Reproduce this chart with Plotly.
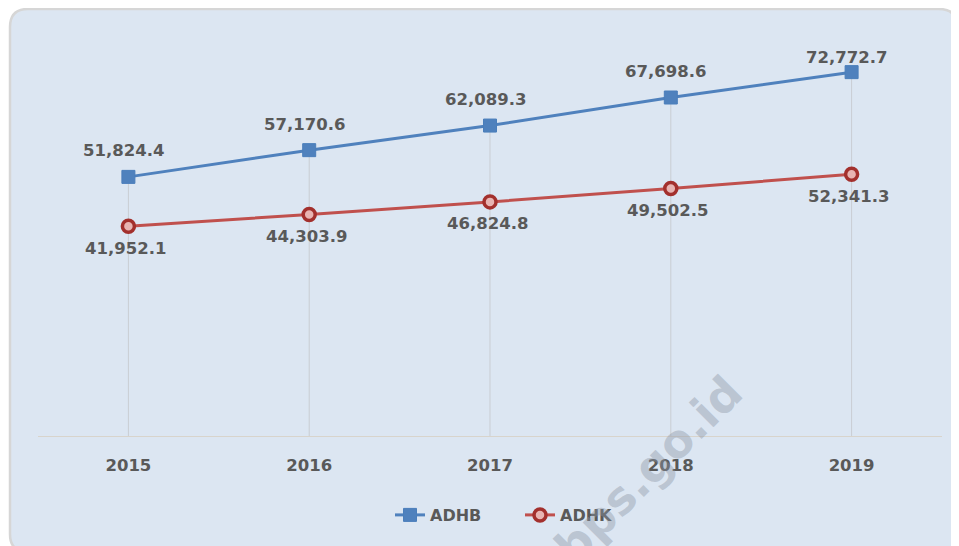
import plotly.graph_objects as go

years = ["2015", "2016", "2017", "2018", "2019"]
adhb = [51824.4, 57170.6, 62089.3, 67698.6, 72772.7]
adhk = [41952.1, 44303.9, 46824.8, 49502.5, 52341.3]

# page body has an 8px margin; figure is laid out in screen pixels minus that offset
OFF = 8
W, H = 959 - OFF, 546 - OFF
ML, MR, MT, MB = 38 - OFF, 17, 36 - OFF, 110
PW, PH = W - ML - MR, H - MT - MB

def px(x):
    return (x - OFF - ML) / PW

def py(y):
    return (H - MB - (y - OFF)) / PH

FONT = "DejaVu Sans"
TXT = "#595959"

fig = go.Figure()

# drop lines
dx, dy = [], []
for i, yr in enumerate(years):
    dx += [yr, yr, None]
    dy += [0, max(adhb[i], adhk[i]), None]
fig.add_trace(go.Scatter(x=dx, y=dy, mode="lines", line=dict(color="#c9cdd3", width=1),
                         hoverinfo="skip", showlegend=False))

fig.add_trace(go.Scatter(x=years, y=adhb, name="ADHB", mode="lines+markers",
                         line=dict(color="#4F81BD", width=3),
                         marker=dict(symbol="square", size=13, color="#4F81BD",
                                     line=dict(color="#4A7EBB", width=1))))
fig.add_trace(go.Scatter(x=years, y=adhk, name="ADHK", mode="lines+markers",
                         line=dict(color="#C0504D", width=3),
                         marker=dict(symbol="circle", size=12, color="#E8B4B2",
                                     line=dict(color="#A3302D", width=3.5))))

for i, yr in enumerate(years):
    fig.add_annotation(x=i, y=adhb[i], text=f"{adhb[i]:,.1f}", showarrow=False,
                       yshift=26 if i < 4 else 15, xshift=-5,
                       font=dict(family=FONT, size=16.5, color=TXT, weight="bold"))
    fig.add_annotation(x=i, y=adhk[i], text=f"{adhk[i]:,.1f}", showarrow=False,
                       yshift=-22, xshift=-3,
                       font=dict(family=FONT, size=16.5, color=TXT, weight="bold"))

# watermark
fig.add_annotation(x=px(648), y=py(470), xref="paper", yref="paper", text="bps.go.id",
                   xanchor="center", yanchor="middle",
                   showarrow=False, textangle=-45,
                   font=dict(family=FONT, size=46, color="rgba(140,150,165,0.42)", weight="bold"))

# rounded background box
x0, x1, y0, y1, r = 10, 957, 9, 552, 18
def P(x, y):
    return f"{px(x):.5f},{py(y):.5f}"
path = (f"M {P(x0 + r, y0)} L {P(x1 - r, y0)} Q {P(x1, y0)} {P(x1, y0 + r)} "
        f"L {P(x1, y1 - r)} Q {P(x1, y1)} {P(x1 - r, y1)} "
        f"L {P(x0 + r, y1)} Q {P(x0, y1)} {P(x0, y1 - r)} "
        f"L {P(x0, y0 + r)} Q {P(x0, y0)} {P(x0 + r, y0)} Z")
fig.add_shape(type="path", path=path, xref="paper", yref="paper", layer="below",
              fillcolor="#DCE6F2", line=dict(color="#D6D6D6", width=2.5))

fig.update_layout(
    width=W, height=H,
    margin=dict(l=ML, r=MR, t=MT, b=MB),
    paper_bgcolor="white", plot_bgcolor="rgba(0,0,0,0)",
    font=dict(family=FONT, color=TXT),
    showlegend=True,
    legend=dict(orientation="h", x=px(390), xanchor="left", y=py(515), yanchor="middle",
                font=dict(family=FONT, size=16, color=TXT, weight="bold"),
                bgcolor="rgba(0,0,0,0)", entrywidth=85, entrywidthmode="pixels"),
    xaxis=dict(type="category", range=[-0.5, 4.5], showgrid=False, zeroline=False,
               showline=True, linecolor="#D8D4CC", linewidth=1,
               ticks="outside", ticklen=14, tickcolor="rgba(0,0,0,0)",
               tickfont=dict(family=FONT, size=16.5, color=TXT, weight="bold")),
    yaxis=dict(range=[0, 80000], visible=False, showgrid=False, zeroline=False),
)

fig.write_html("out.html")
